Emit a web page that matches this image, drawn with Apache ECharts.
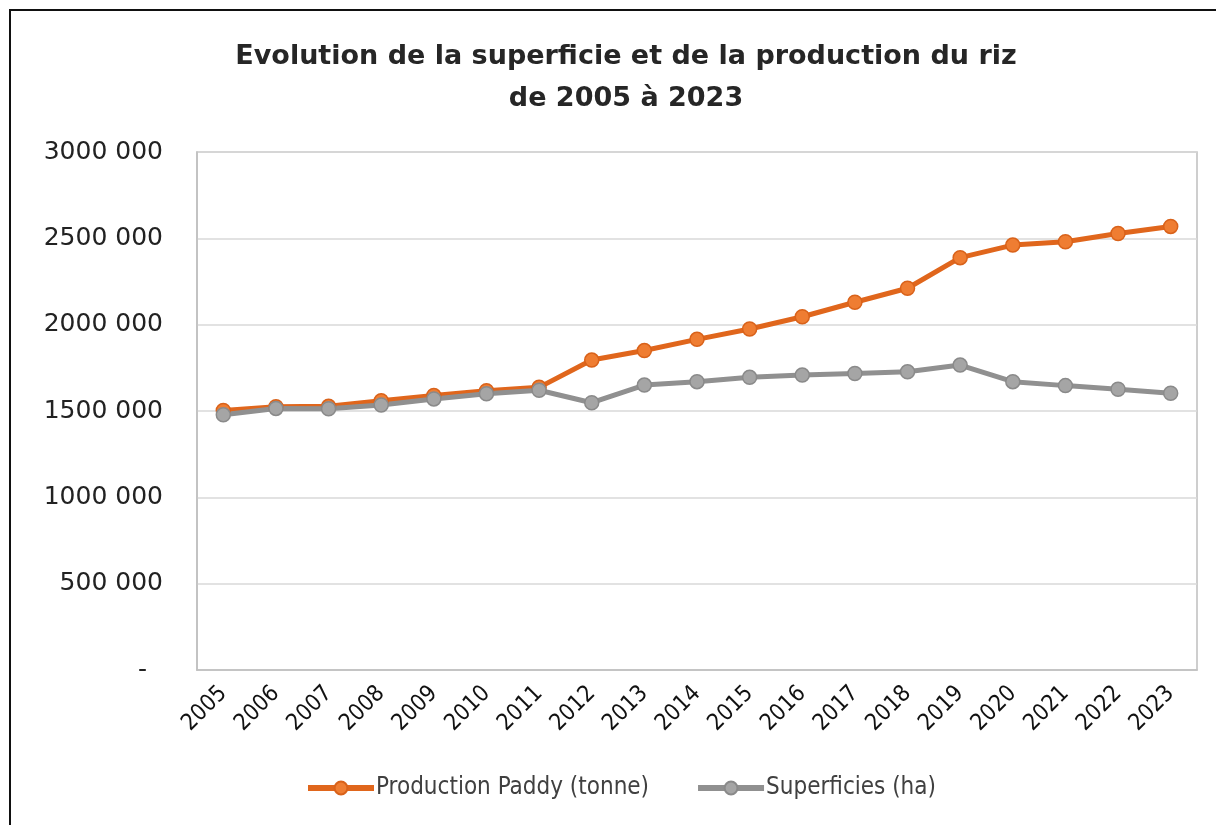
<!DOCTYPE html>
<html><head><meta charset="utf-8">
<script src="https://cdn.jsdelivr.net/npm/echarts@6/dist/echarts.min.js"></script>
<style>html,body{margin:0;padding:0;background:#fff}#c{width:1216px;height:825px}</style>
</head><body><div id="c"></div>
<script>
const years = ['2005','2006','2007','2008','2009','2010','2011','2012','2013','2014','2015','2016','2017','2018','2019','2020','2021','2022','2023'];
const production = [1503000,1525000,1527000,1560000,1590000,1618000,1637000,1795000,1850000,1915000,1975000,2046000,2130000,2211000,2388000,2461000,2480000,2528000,2569000];
const superficies = [1478000,1515000,1513000,1535000,1570000,1600000,1620000,1548000,1650000,1670000,1695000,1708000,1717000,1727000,1766000,1670000,1647000,1626000,1603000];
const yTicks = [0,500000,1000000,1500000,2000000,2500000,3000000];
const yTickLabels = ['-  ','500 000','1000 000','1500 000','2000 000','2500 000','3000 000'];
const seriesNames = ['Production Paddy (tonne)','Superficies (ha)'];

const chart = echarts.init(document.getElementById('c'));
chart.setOption({
  animation:false,
  backgroundColor:'#fff',
  graphic:[{type:'rect',shape:{x:10,y:10,width:1230,height:840},style:{fill:'none',stroke:'#111',lineWidth:2},silent:true}],
  title:{
    text:'Evolution de la superficie et de la production du riz\nde 2005 à 2023',
    left:621, textAlign:'center', top:31,
    textStyle:{fontFamily:'DejaVu Sans',fontWeight:'bold',fontSize:27,color:'#262626',lineHeight:42}
  },
  legend:{
    bottom:20, left:300, itemGap:46, itemWidth:66, itemHeight:16,
    data:seriesNames,
    lineStyle:{width:6},
    textStyle:{fontFamily:'DejaVu Sans Condensed',fontSize:24,color:'#404040',padding:[0,0,0,-3]}
  },
  grid:{left:197,right:19,top:152,bottom:155,show:true,borderColor:'#bfbfbf',borderWidth:1.5},
  xAxis:{
    type:'category', data:years, boundaryGap:true,
    axisLine:{lineStyle:{color:'#bfbfbf',width:1.5}},
    axisTick:{show:false},
    axisLabel:{rotate:45,margin:20,fontFamily:'DejaVu Sans Condensed',fontSize:23,color:'#111',interval:0}
  },
  yAxis:{
    type:'value', min:0, max:3000000, interval:500000,
    axisLine:{show:true,lineStyle:{color:'#bfbfbf',width:1.5}},
    axisTick:{show:false},
    splitLine:{lineStyle:{color:'#d9d9d9',width:1.5}},
    axisLabel:{margin:34,fontFamily:'DejaVu Sans',fontSize:25,color:'#222',
      formatter:v=>{const i=yTicks.indexOf(v);return i>=0?yTickLabels[i]:'';}}
  },
  series:[
    {name:seriesNames[0],type:'line',data:production,symbol:'circle',symbolSize:14,
     lineStyle:{color:'#e0661c',width:5},itemStyle:{color:'#ef7d32',borderColor:'#d9621a',borderWidth:1.5}},
    {name:seriesNames[1],type:'line',data:superficies,symbol:'circle',symbolSize:14,
     lineStyle:{color:'#909090',width:5},itemStyle:{color:'#a5a5a5',borderColor:'#8a8a8a',borderWidth:1.5}}
  ]
});
</script></body></html>
